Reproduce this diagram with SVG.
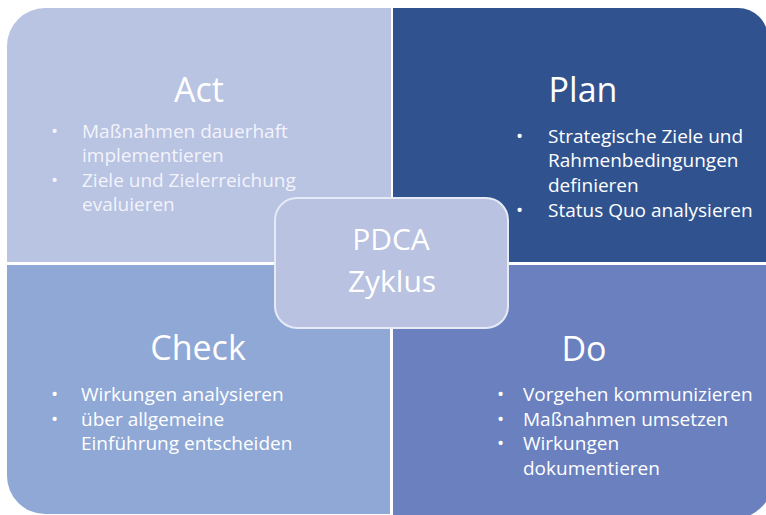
<svg xmlns="http://www.w3.org/2000/svg" width="766" height="515" viewBox="0 0 766 515">
  <style>
    .title { font-family: "Open Sans", "Noto Sans", sans-serif; font-size: 34px; fill: #ffffff; text-anchor: middle; }
    .centre { font-size: 30px; }
    .item { font-family: "Open Sans", "Noto Sans", sans-serif; font-size: 19px; fill: #ffffff; }
    .soft { fill: #f2f4fb; }
  </style>
  <rect width="766" height="515" fill="#ffffff"/>

  <!-- Act quadrant (top left) -->
  <g id="act">
    <path d="M7,46 A38,38 0 0 1 45,8 H391 V262 H7 Z" fill="#b9c3e2"/>
    <text class="title" x="199" y="102">Act</text>
    <g class="item soft">
      <text x="51" y="138">•</text><text x="82" y="138">Maßnahmen dauerhaft</text>
      <text x="82" y="162">implementieren</text>
      <text x="51" y="187">•</text><text x="82" y="187">Ziele und Zielerreichung</text>
      <text x="82" y="211">evaluieren</text>
    </g>
  </g>

  <!-- Plan quadrant (top right) -->
  <g id="plan">
    <path d="M393,8 H738 A30,30 0 0 1 768,38 V262 H393 Z" fill="#30538f"/>
    <text class="title" x="583" y="102">Plan</text>
    <g class="item">
      <text x="516" y="143">•</text><text x="548" y="143">Strategische Ziele und</text>
      <text x="548" y="167">Rahmenbedingungen</text>
      <text x="548" y="192">definieren</text>
      <text x="516" y="217">•</text><text x="548" y="217">Status Quo analysieren</text>
    </g>
  </g>

  <!-- Check quadrant (bottom left) -->
  <g id="check">
    <path d="M7,265 H390 V514 H45 A38,38 0 0 1 7,476 Z" fill="#8fa8d5"/>
    <text class="title" x="198" y="360">Check</text>
    <g class="item">
      <text x="51" y="401">•</text><text x="81" y="401">Wirkungen analysieren</text>
      <text x="51" y="426">•</text><text x="81" y="426">über allgemeine</text>
      <text x="81" y="450">Einführung entscheiden</text>
    </g>
  </g>

  <!-- Do quadrant (bottom right) -->
  <g id="do">
    <path d="M393,265 H775 V475 A45,45 0 0 1 730,520 H393 Z" fill="#6a80bf"/>
    <text class="title" x="584" y="361">Do</text>
    <g class="item">
      <text x="497" y="401">•</text><text x="523" y="401">Vorgehen kommunizieren</text>
      <text x="497" y="426">•</text><text x="523" y="426">Maßnahmen umsetzen</text>
      <text x="497" y="450">•</text><text x="523" y="450">Wirkungen</text>
      <text x="523" y="475">dokumentieren</text>
    </g>
  </g>

  <!-- Centre label -->
  <g id="pdca">
    <rect x="275" y="198" width="233" height="130" rx="22" fill="#b9c2e1" stroke="#e6eaf6" stroke-width="2"/>
    <text class="title centre" x="391" y="250">PDCA</text>
    <text class="title centre" x="392" y="292">Zyklus</text>
  </g>
</svg>
